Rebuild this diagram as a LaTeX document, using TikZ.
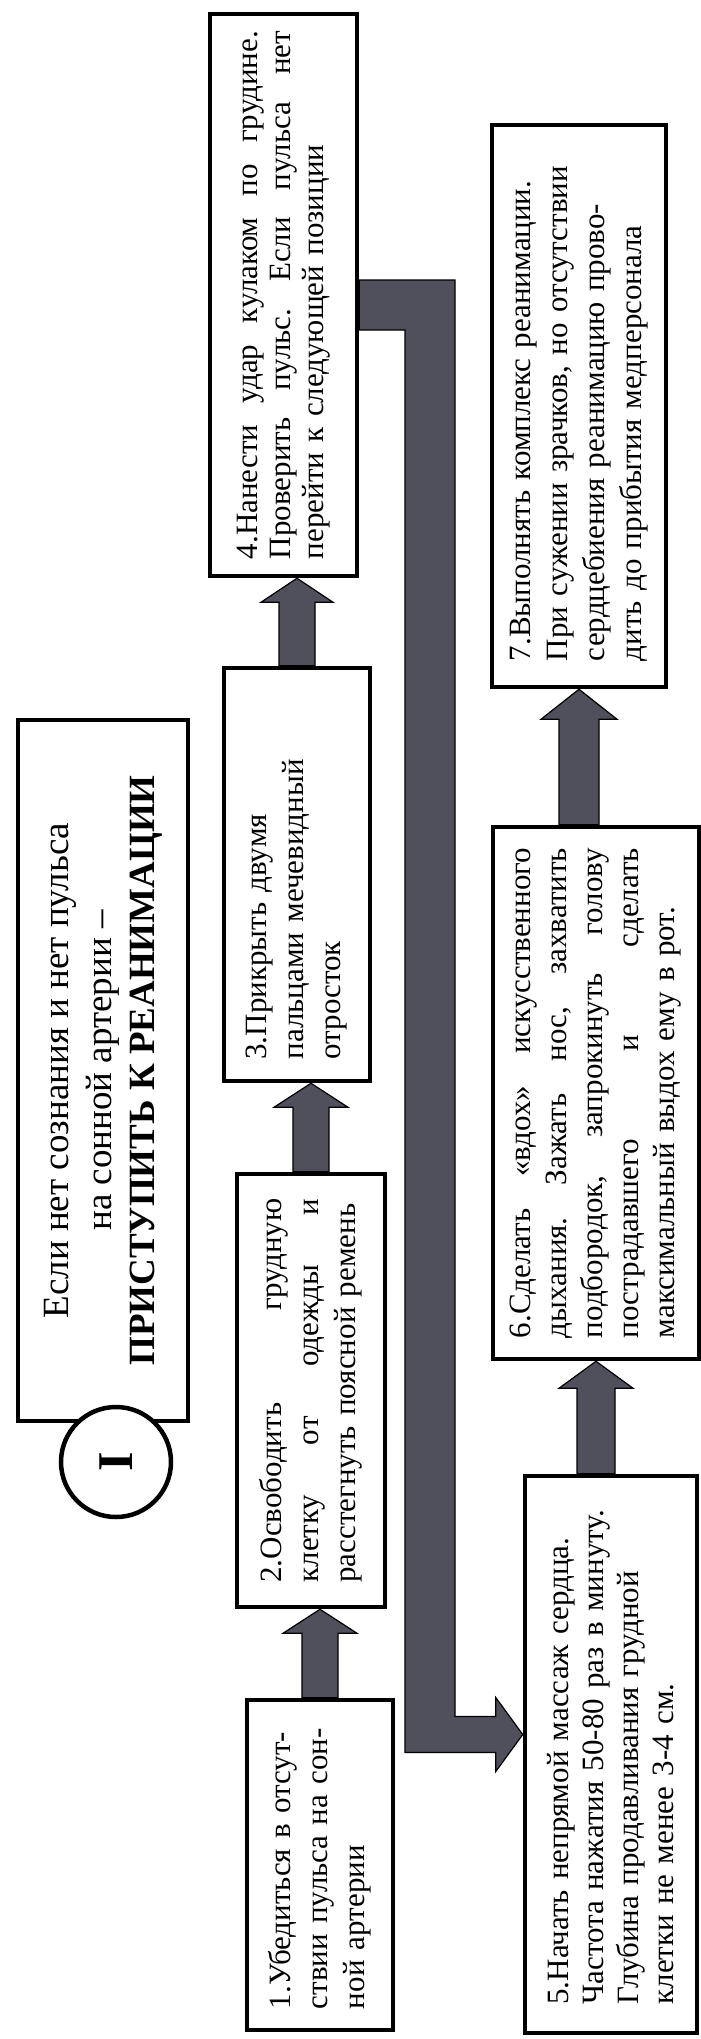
\documentclass[tikz,border=0pt]{standalone}
\usepackage{fontspec}
\setmainfont{Liberation Serif}
\usetikzlibrary{calc}
\pgfdeclarelayer{bg}
\pgfsetlayers{bg,main}
\definecolor{arrowgray}{RGB}{80,80,92}
\newcommand\jl[2]{{\spaceskip=0pt\xspaceskip=0pt\makebox[#1][s]{#2}}}
% #1 start, #2 tip, #3 shaft half width, #4 head half width, #5 head length
\newcommand\blkarrow[5]{%
  \filldraw[blockarrow] ($(#1)+(-#3,0)$) -- ($(#2)+(-#3,#5)$) -- ($(#2)+(-#4,#5)$) -- (#2)
    -- ($(#2)+(#4,#5)$) -- ($(#2)+(#3,#5)$) -- ($(#1)+(#3,0)$) -- cycle;}
\begin{document}
\begin{tikzpicture}[x=1pt,y=-1pt,
  box/.style={draw=black, line width=4.5pt, fill=white, rotate=90, inner sep=0pt,
    align=left, font=\fontsize{31}{37}\selectfont\frenchspacing},
  blockarrow/.style={fill=arrowgray, draw=black, line width=1.2pt, line join=miter}]
\useasboundingbox (0,0) rectangle (701,2039);
\begin{pgfonlayer}{bg}
\fill[white] (0,0) rectangle (701,2039);
\end{pgfonlayer}

% header and circle
\node[box, align=center, minimum width=701pt, minimum height=170pt,
  font=\fontsize{37}{43}\selectfont] (hdr) at (103,1070.5)
  {Если нет сознания и нет пульса\\на сонной артерии –\\\textbf{ПРИСТУПИТЬ К РЕАНИМАЦИИ}};
\node[draw=black, circle, line width=4.5pt, fill=white, minimum size=110pt, inner sep=0pt,
  rotate=90, font=\fontsize{50}{50}\selectfont\bfseries] (c1) at (116,1462) {I};

% first row of steps
\node[box, minimum width=330pt, minimum height=146pt, text width=288pt] (b1) at (320,1865)
  {\mbox{1.Убедиться в отсут-}\\\mbox{ствии пульса на сон-}\\\mbox{ной артерии}};
\node[box, minimum width=433pt, minimum height=148pt, text width=384pt] (b2) at (311,1390.5)
  {\jl{384pt}{2.Освободить грудную}\\\jl{384pt}{клетку от одежды и}\\\mbox{расстегнуть поясной ремень}};
\node[box, minimum width=413pt, minimum height=146pt, text width=370pt] (b3) at (297,874.5)
  {\mbox{3.Прикрыть двумя}\\\mbox{пальцами мечевидный}\\\mbox{отросток}};
\node[box, minimum width=562pt, minimum height=147pt, text width=528pt,
  font=\fontsize{31}{33}\selectfont\frenchspacing] (b4) at (283.5,295)
  {\jl{528pt}{4.Нанести удар кулаком по грудине.}\\\jl{528pt}{Проверить пульс. Если пульса нет}\\\mbox{перейти к следующей позиции}};

% second row of steps
\node[box, minimum width=557pt, minimum height=172pt, text width=500pt,
  font=\fontsize{31}{35}\selectfont\frenchspacing] (b5) at (611,1754.5)
  {\mbox{5.Начать непрямой массаж сердца.}\\\mbox{Частота нажатия 50-80 раз в минуту.}\\\mbox{Глубина продавливания грудной}\\\mbox{клетки не менее 3-4 см.}};
\node[box, minimum width=532pt, minimum height=206pt, text width=490pt,
  font=\fontsize{31}{36}\selectfont\frenchspacing] (b6) at (596,1093)
  {\jl{490pt}{6.Сделать «вдох» искусственного}\\\jl{490pt}{дыхания. Зажать нос, захватить}\\\jl{490pt}{подбородок, запрокинуть голову}\\\jl{490pt}{пострадавшего и сделать}\\\mbox{максимальный выдох ему в рот.}};
\node[box, minimum width=562pt, minimum height=174pt, text width=510pt] (b7) at (579,406)
  {\mbox{7.Выполнять комплекс реанимации.}\\\mbox{При сужении зрачков, но отсутствии}\\\mbox{сердцебиения реанимацию прово-}\\\mbox{дить до прибытия медперсонала}};

% connectors
\begin{pgfonlayer}{bg}
\coordinate (a12) at (b1.east |- b2.west);
\coordinate (a23) at (b2.east |- b3.west);
\coordinate (a34) at (b3.east |- b4.west);
\coordinate (s56) at (b6.west |- b5.east);
\coordinate (s67) at (b7.west |- b6.east);
\blkarrow{b1.east}{a12}{18}{37}{24}
\blkarrow{b2.east}{a23}{18}{37}{24}
\blkarrow{b3.east}{a34}{18}{36}{24}
\blkarrow{s56}{b6.west}{19}{37}{27}
\blkarrow{s67}{b7.west}{20}{38}{30}
% long connector from step 4 to step 5
\coordinate (c4) at ($(b4.south)+(0,-15)$);
\coordinate (c5) at ($(b5.north)+(0,-20)$);
\coordinate (barL) at (405,0);
\coordinate (barR) at (455,0);
\filldraw[blockarrow] (c4) -- (c4 -| barR) -- ($(c5 -| barR)+(0,-18)$) -- ($(c5)+(-27,-18)$)
  -- ($(c5)+(-27,-37)$) -- (c5) -- ($(c5)+(-27,37)$) -- ($(c5)+(-27,18)$)
  -- ($(c5 -| barL)+(0,18)$) -- ($(c4 -| barL)+(0,50)$) -- ($(c4)+(0,50)$) -- cycle;
\end{pgfonlayer}
\end{tikzpicture}
\end{document}
